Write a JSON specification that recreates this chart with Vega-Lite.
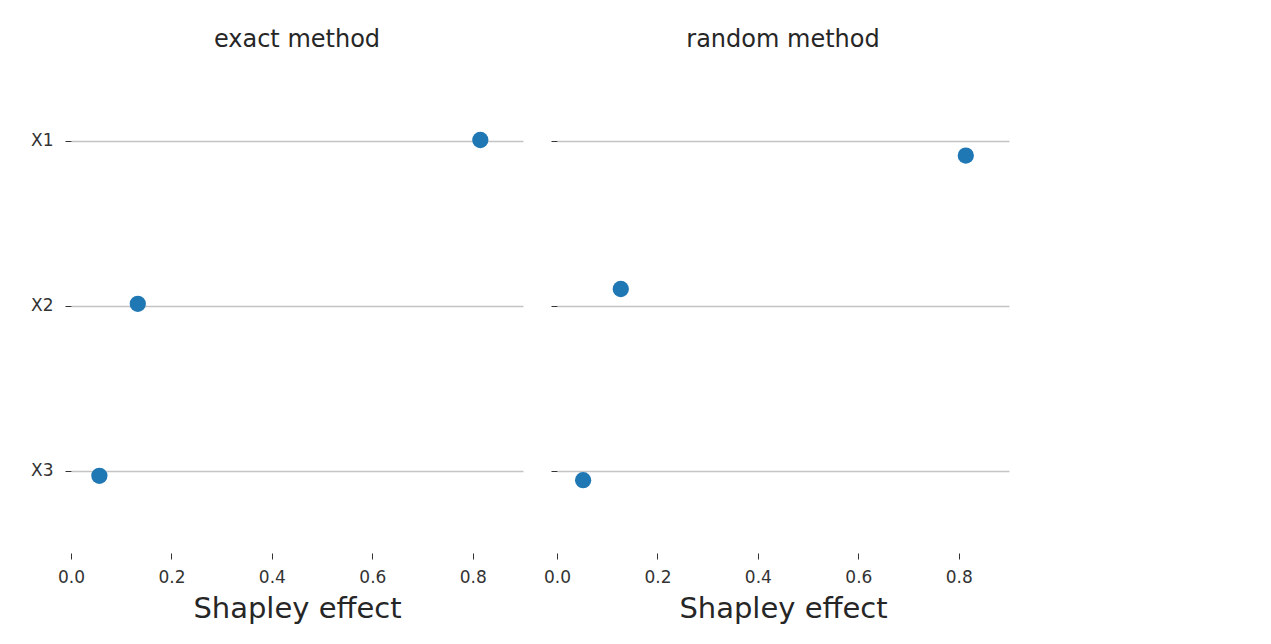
{
  "$schema": "https://vega.github.io/schema/vega-lite/v6.json",
  "background": "white",
  "padding": {"left": 30, "top": 28, "right": 5, "bottom": 5},
  "data": {"values": [
    {"method": "exact method", "variable": "X1", "effect": 0.815, "jitter": -0.003},
    {"method": "exact method", "variable": "X2", "effect": 0.133, "jitter": -0.010},
    {"method": "exact method", "variable": "X3", "effect": 0.0565, "jitter": 0.032},
    {"method": "random method", "variable": "X1", "effect": 0.814, "jitter": 0.091},
    {"method": "random method", "variable": "X2", "effect": 0.127, "jitter": -0.100},
    {"method": "random method", "variable": "X3", "effect": 0.052, "jitter": 0.059}
  ]},
  "spacing": 20,
  "config": {
    "font": "DejaVu Sans",
    "view": {"stroke": null},
    "axis": {"labelFont": "DejaVu Sans", "titleFont": "DejaVu Sans", "labelColor": "#333333", "titleColor": "#262626", "tickColor": "#333333", "domain": false, "titleFontWeight": "normal", "labelFlush": false},
    "title": {"font": "DejaVu Sans", "fontWeight": "normal", "color": "#262626", "fontSize": 24, "offset": 6}
  },
  "hconcat": [
    {
      "title": "exact method",
      "width": 452,
      "height": 495,
      "transform": [{"filter": "datum.method === 'exact method'"}],
      "mark": {"type": "point", "filled": true, "opacity": 1, "size": 265, "color": "#1f77b4", "shape": "circle"},
      "encoding": {
        "x": {"field": "effect", "type": "quantitative", "scale": {"domain": [0, 0.9], "nice": false, "zero": false},
              "axis": {"values": [0, 0.2, 0.4, 0.6, 0.8], "format": ".1f", "grid": false, "title": "Shapley effect", "labelFontSize": 17, "titleFontSize": 29, "tickSize": 6, "labelPadding": 10, "titlePadding": 9}},
        "y": {"field": "variable", "type": "nominal", "sort": ["X1", "X2", "X3"], "scale": {"type": "point", "padding": 0.5},
              "axis": {"title": null, "grid": true, "gridColor": "#c4c4c4", "gridWidth": 1.5, "labelFontSize": 17, "tickSize": 6, "labelPadding": 12}},
        "yOffset": {"field": "jitter", "type": "quantitative", "scale": {"domain": [-0.5, 0.5], "range": [-82.5, 82.5]}}
      }
    },
    {
      "title": "random method",
      "width": 452,
      "height": 495,
      "transform": [{"filter": "datum.method === 'random method'"}],
      "mark": {"type": "point", "filled": true, "opacity": 1, "size": 265, "color": "#1f77b4", "shape": "circle"},
      "encoding": {
        "x": {"field": "effect", "type": "quantitative", "scale": {"domain": [0, 0.9], "nice": false, "zero": false},
              "axis": {"values": [0, 0.2, 0.4, 0.6, 0.8], "format": ".1f", "grid": false, "title": "Shapley effect", "labelFontSize": 17, "titleFontSize": 29, "tickSize": 6, "labelPadding": 10, "titlePadding": 9}},
        "y": {"field": "variable", "type": "nominal", "sort": ["X1", "X2", "X3"], "scale": {"type": "point", "padding": 0.5},
              "axis": {"title": null, "grid": true, "gridColor": "#c4c4c4", "gridWidth": 1.5, "labels": false, "tickSize": 6}},
        "yOffset": {"field": "jitter", "type": "quantitative", "scale": {"domain": [-0.5, 0.5], "range": [-82.5, 82.5]}}
      }
    }
  ]
}
